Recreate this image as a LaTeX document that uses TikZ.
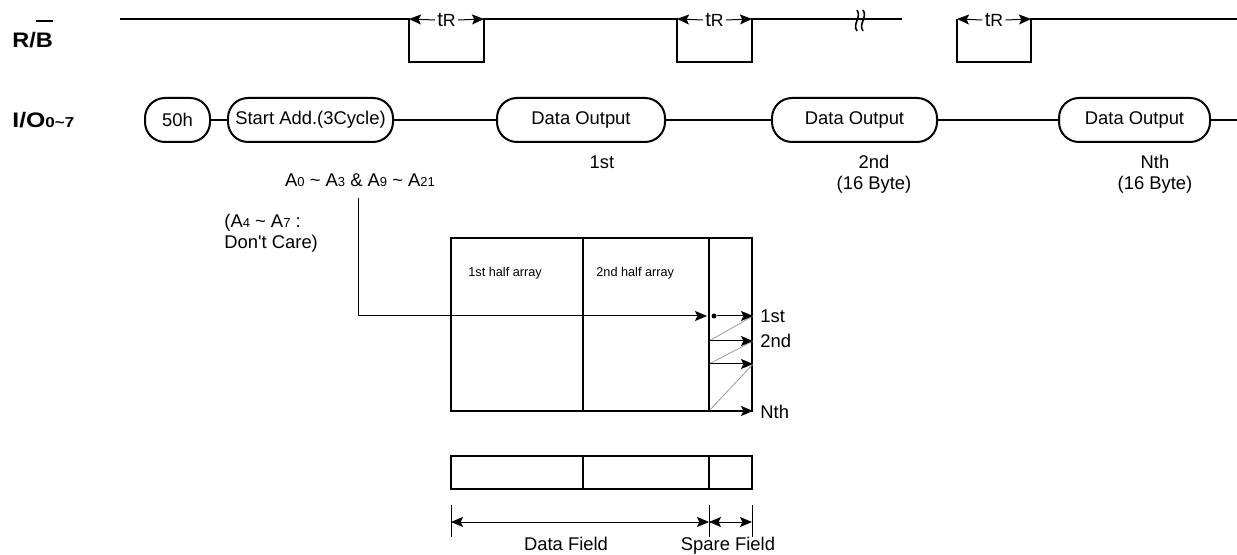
\documentclass[tikz,border=0pt]{standalone}
\usepackage{fontspec}
\setmainfont{Liberation Sans}
\usepackage{tikz}
\usetikzlibrary{arrows.meta, positioning}
\tikzset{>={Stealth[length=6pt,width=5pt,inset=1.2pt]}}
\newcommand{\txt}{\fontsize{9.2}{10.5}\selectfont}
\newcommand{\sigfont}{\fontsize{10.5}{12}\selectfont\bfseries}
\newcommand{\sml}[1]{{\fontsize{6.5}{8}\selectfont #1}}
\newcommand{\tld}{\textasciitilde}
\tikzset{
  sig/.style={line width=1pt},
  pill/.style={draw, line width=1pt, rounded corners=10pt, minimum height=22pt, inner sep=0pt},
  box/.style={line width=1pt},
  thinarr/.style={->, line width=0.5pt},
  guide/.style={line width=0.4pt, black!40},
  lbl/.style={inner sep=0pt}
}

\begin{document}
\begin{tikzpicture}[x=0.5pt, y=-0.5pt, font=\txt]
  \useasboundingbox (0,0) rectangle (1237,555);
  % signal names
  \node[lbl, anchor=base west, font=\sigfont] (rbname) at (12,48)
    {\scalebox{1.12}[1]{R/\makebox[0pt][l]{\rule[1.22em]{0.72em}{0.1em}}B}};
  \node[lbl, anchor=base west, font=\sigfont] (ioname) at (12,128)
    {\scalebox{1.18}[1]{I/O{\fontsize{7.2}{8}\selectfont 0\tld7}}};

  % R/B waveform
  \draw[sig](120,19)--(409,19)--(409,62)--(484,62)--(484,19)--(677,19)--(677,62)--(752,62)--(752,19)--(866,19);
  \draw[line width=1.4pt](866,19)--(902,19);
  \draw[line width=0.8pt](857,10) .. controls (862,17) and (852,24) .. (857,31);
  \draw[line width=0.8pt](863,10) .. controls (868,17) and (858,24) .. (863,31);
  \draw[sig](957,19)--(957,62)--(1031,62)--(1031,19)--(1237,19);
  \foreach \xa/\xb/\n in {409/484/a, 677/752/b, 957/1031/c}{
    \coordinate (tl\n) at (\xa,19);
    \coordinate (tr\n) at (\xb,19);
    \node[inner sep=1pt] (trec\n) at ({(\xa+\xb)/2},20) {{\fontsize{10.2}{11}\selectfont t}{\fontsize{8.8}{9}\selectfont R}};
    \draw[thinarr](trec\n.west)--(tl\n);
    \draw[thinarr](trec\n.east)--(tr\n);
  }

  % I/O sequence
  \node[pill, minimum width=32.5pt] (cmd) at (177.5,120) {50h};
  \node[pill, minimum width=82.5pt] (addr) at (310.5,120) {Start Add.(3Cycle)};
  \node[pill, minimum width=84pt] (out1) at (581,120) {Data Output};
  \node[pill, minimum width=82.5pt] (out2) at (854.5,120) {Data Output};
  \node[pill, minimum width=75.5pt] (outn) at (1134.5,120) {Data Output};
  \coordinate (ioend) at (1237,120);
  \draw[sig](cmd.east)--(addr.west);
  \draw[sig](addr.east)--(out1.west);
  \draw[sig](out1.east)--(out2.west);
  \draw[sig](out2.east)--(outn.west);
  \draw[sig](outn.east)--(ioend);
  \node[lbl, anchor=base] (cnt1) at (602,169) {1st};
  \node[lbl, anchor=north, align=center] (cnt2) at (874,155) {2nd\\(16 Byte)};
  \node[lbl, anchor=north, align=center] (cntn) at (1155,155) {Nth\\(16 Byte)};

  % column address
  \node[lbl, anchor=base] (colad) at (360,187)
    {A\sml{0} \tld{} A\sml{3} \& A\sml{9} \tld{} A\sml{21}};
  \node[lbl, anchor=north west, align=left] (dontcare) at (224,214)
    {(A\sml{4} \tld{} A\sml{7} :\\Don\textquotesingle t Care)};

  % page array
  \draw[box](451,238) rectangle (752,411);
  \draw[box](583,238)--(583,411) (709,238)--(709,411);
  \node[lbl, anchor=base west, font=\fontsize{6.35}{7}\selectfont] (half1) at (468,277) {1st half array};
  \node[lbl, anchor=base west, font=\fontsize{6.35}{7}\selectfont] (half2) at (596,277) {2nd half array};

  \coordinate (adfoot) at (358,198);
  \coordinate (hit) at (707,316);
  \draw[thinarr](adfoot) |- (hit);
  \node[circle, fill, inner sep=0pt, minimum size=2.5pt] (start) at (714,316) {};
  \coordinate (r1) at (753,316);
  \coordinate (r2) at (753,341);
  \coordinate (r3) at (753,364);
  \coordinate (rn) at (753,411);
  \coordinate (l2) at (709,341);
  \coordinate (l3) at (709,364);
  \coordinate (ln) at (709,411);
  \draw[guide](l2)--(r1) (l3)--(r2) (ln)--(r3);
  \draw[thinarr](start)--(r1);
  \draw[thinarr](l2)--(r2);
  \draw[thinarr](l3)--(r3);
  \draw[thinarr](ln)--(rn);
  \node[lbl, anchor=west] (o1) at (760,316) {1st};
  \node[lbl, anchor=west] (o2) at (760,341) {2nd};
  \node[lbl, anchor=west] (on) at (760,412) {Nth};

  % spare area bar and field widths
  \draw[box](451,456) rectangle (752,489);
  \draw[box](583,456)--(583,489) (709,456)--(709,489);
  \draw[line width=0.5pt](451,505)--(451,537) (709,505)--(709,537) (752,505)--(752,537);
  \draw[<->, line width=0.5pt](451,522)--(709,522);
  \draw[<->, line width=0.5pt](709,522)--(752,522);
  \node[lbl, anchor=base] (dfield) at (566,550) {Data Field};
  \node[lbl, anchor=base] (sfield) at (728,550) {Spare Field};
\end{tikzpicture}
\end{document}
